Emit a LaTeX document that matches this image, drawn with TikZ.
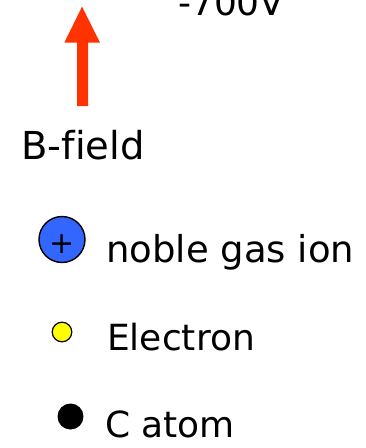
\documentclass[tikz,border=0pt]{standalone}
\usepackage{fontspec}
\setmainfont[Ligatures=NoCommon]{DejaVu Sans}
\usepackage{xcolor}
\definecolor{fieldred}{HTML}{FF3300}
\definecolor{ionblue}{HTML}{3366FF}
\definecolor{elyellow}{HTML}{FFFF00}

\begin{document}
\begin{tikzpicture}[x=1pt,y=-1pt,
    lbl/.style={anchor=base west,inner sep=0pt,font=\fontsize{36}{40}\selectfont}]
    \useasboundingbox (0,0) rectangle (366,448);

    % voltage, cut off at the top
    \begin{scope}
        \clip (0,0) rectangle (366,448);
        \node[lbl] (volt) at (178,15) {-700V};
    \end{scope}

    \fill[fieldred]
        (77,106) -- (77,42.7) -- (64.3,42.7) -- (82,6.7)
        -- (100,42.7) -- (88,42.7) -- (88,106) -- cycle;

    \node[lbl,font=\fontsize{38.5}{42}\selectfont] (bfield) at (21,159.5) {B-field};

    \draw[line width=1.4pt,fill=ionblue] (62,239.5) circle (23);
    \node[inner sep=0pt,font=\fontsize{30}{32}\selectfont] (plus) at (62.3,244) {+};
    \node[lbl,font=\fontsize{37}{40}\selectfont] (ion) at (106,262) {noble gas ion};

    \draw[line width=1.2pt,fill=elyellow] (62,332) circle (9.8);
    \node[lbl] (electron) at (107,350) {Electron};

    \fill (70.5,416.5) circle (13);
    \node[lbl] (catom) at (105,437.5) {C atom};

\end{tikzpicture}
\end{document}
